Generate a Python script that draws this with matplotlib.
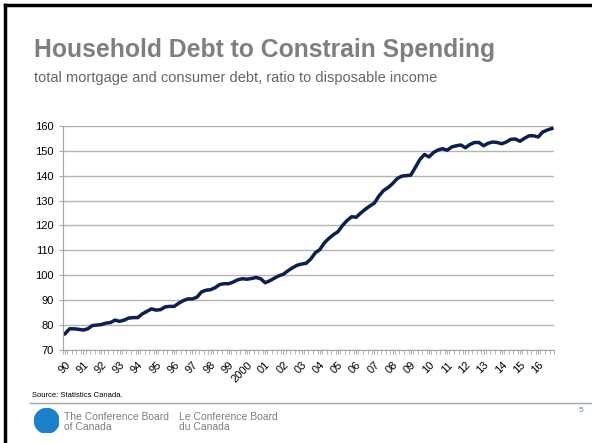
import numpy as np
import matplotlib.pyplot as plt
from matplotlib.lines import Line2D
from matplotlib.patches import Circle

plt.rcParams['font.family'] = ['Liberation Sans', 'DejaVu Sans']

# quarterly ratio, 1990Q1 .. 2016Q4
debt_ratio = [
    76.5, 78.5, 78.5, 78.3,   # 1990
    78.0, 78.5, 79.8, 80.0,   # 1991
    80.2, 80.8, 81.0, 82.0,   # 1992
    81.5, 82.0, 82.8, 83.0,   # 1993
    83.0, 84.5, 85.5, 86.5,   # 1994
    86.0, 86.2, 87.3, 87.5,   # 1995
    87.5, 88.8, 89.8, 90.5,   # 1996
    90.5, 91.2, 93.3, 94.0,   # 1997
    94.2, 95.0, 96.3, 96.6,   # 1998
    96.6, 97.3, 98.2, 98.6,   # 1999
    98.4, 98.7, 99.1, 98.6,   # 2000
    97.0, 97.8, 98.8, 99.8,   # 2001
    100.4, 101.8, 103.0, 104.0,  # 2002
    104.5, 104.8, 106.5, 109.0,  # 2003
    110.3, 113.0, 114.8, 116.3,  # 2004
    117.5, 120.0, 122.0, 123.5,  # 2005
    123.3, 125.0, 126.5, 127.8,  # 2006
    129.0, 131.8, 134.0, 135.2,  # 2007
    136.8, 138.8, 139.8, 140.0,  # 2008
    140.2, 143.3, 146.5, 148.5,  # 2009
    147.5, 149.3, 150.3, 150.8,  # 2010
    150.2, 151.5, 152.0, 152.3,  # 2011
    151.2, 152.5, 153.3, 153.3,  # 2012
    152.0, 153.0, 153.5, 153.3,  # 2013
    152.8, 153.5, 154.6, 154.7,  # 2014
    153.8, 155.0, 156.0, 156.0,  # 2015
    155.5, 157.5, 158.3, 158.9,  # 2016
]
year_labels = ['90', '91', '92', '93', '94', '95', '96', '97', '98', '99', '2000',
               '01', '02', '03', '04', '05', '06', '07', '08', '09', '10',
               '11', '12', '13', '14', '15', '16']

fig = plt.figure(figsize=(5.92, 4.43), dpi=100)
ax = fig.add_axes([0.106, 0.21, 0.83, 0.506])

x = np.arange(len(debt_ratio))
ax.plot(x, debt_ratio, color='#0d1f4f', lw=2.5, solid_joinstyle='round')

ax.set_xlim(-0.5, len(debt_ratio) - 0.5)
ax.set_ylim(70, 160)
ax.set_yticks(range(70, 161, 10))
ax.yaxis.grid(True, color='#b3b3b3', lw=1)
ax.set_axisbelow(True)
for s in ['top', 'right']:
    ax.spines[s].set_visible(False)
ax.spines['left'].set_color('#a6a6a6')
ax.spines['bottom'].set_color('#a6a6a6')

ax.set_xticks(np.arange(0, len(debt_ratio), 4))
ax.set_xticklabels(year_labels, rotation=45, ha='right', rotation_mode='anchor')
ax.set_xticks(np.arange(-0.5, len(debt_ratio), 1), minor=True)
ax.tick_params(axis='x', which='both', length=3, color='#a6a6a6', labelsize=8, pad=4)
ax.tick_params(axis='y', length=3, color='#a6a6a6', labelsize=8)

fig.text(0.057, 0.888, 'Household Debt to Constrain Spending', fontsize=17.8,
         fontweight='bold', color='#7f7f7f', va='center')
fig.text(0.057, 0.824, 'total mortgage and consumer debt, ratio to disposable income',
         fontsize=10.5, color='#666666', va='center')
fig.text(0.054, 0.108, 'Source: Statistics Canada.', fontsize=5.5, color='#000000', va='center')

fig.add_artist(Line2D([0.05, 1.0], [0.09, 0.09], color='#a6a6a6', lw=1))
# slide frame
fig.add_artist(Line2D([0.009, 1.0], [0.988, 0.988], color='black', lw=2.5))
fig.add_artist(Line2D([0.009, 0.009], [0.0, 0.988], color='black', lw=2.5))

logo = fig.add_axes([0.058, 0.022, 0.042, 0.056])
logo.add_patch(Circle((0.5, 0.5), 0.5, color='#1e7fc9'))
logo.set_xlim(0, 1); logo.set_ylim(0, 1); logo.set_aspect('equal'); logo.axis('off')

fig.text(0.108, 0.048, 'The Conference Board\nof Canada', fontsize=7.5,
         color='#7f7f7f', va='center', linespacing=0.95)
fig.text(0.302, 0.048, 'Le Conference Board\ndu Canada', fontsize=7.5,
         color='#7f7f7f', va='center', linespacing=0.95)
fig.text(0.985, 0.074, '5', fontsize=6, color='#3b8fd6', ha='right', va='center')

fig.savefig('out.png', dpi=100)
